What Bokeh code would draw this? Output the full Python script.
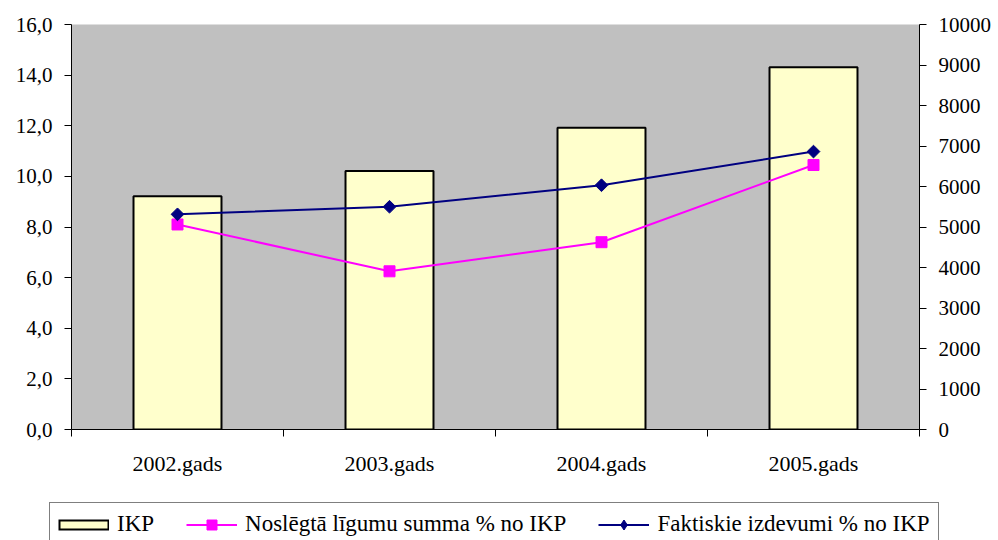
import math
from bokeh.plotting import figure
from bokeh.layouts import column
from bokeh.models import (Range1d, LinearAxis, FixedTicker, Legend, LegendItem,
                          CustomJSTickFormatter)
from bokeh.embed import file_html
from bokeh.resources import INLINE

# ---- data ----
years = ["2002.gads", "2003.gads", "2004.gads", "2005.gads"]
ikp = [5760, 6380, 7450, 8945]                 # right axis (bars)
noslegta = [8.1, 6.25, 7.4, 10.45]             # Noslēgtā līgumu summa % no IKP
faktiskie = [8.5, 8.8, 9.65, 10.98]            # Faktiskie izdevumi % no IKP
left_ticks = [0, 2, 4, 6, 8, 10, 12, 14, 16]
right_ticks = [0, 1000, 2000, 3000, 4000, 5000, 6000, 7000, 8000, 9000, 10000]
labels = ["IKP", "Noslēgtā līgumu summa % no IKP", "Faktiskie izdevumi % no IKP"]

centers = [i + 0.5 for i in range(len(years))]
bounds = [i for i in range(len(years) + 1)]

FONT = "Liberation Serif"
BAR_FILL = "#FFFFCC"
MAGENTA = "#FF00FF"
NAVY = "#000080"

p1 = figure(width=998, height=500, x_range=Range1d(0, len(years)), y_range=Range1d(0, 16),
            output_backend="svg", toolbar_location=None, frame_align=False,
            min_border_left=71, min_border_right=79, min_border_top=24, min_border_bottom=71)
p1.background_fill_color = "#C0C0C0"
p1.border_fill_color = "white"
p1.outline_line_color = None
p1.xgrid.grid_line_color = None
p1.ygrid.grid_line_color = None

# x axis
xa = p1.xaxis[0]
xa.ticker = FixedTicker(ticks=centers, minor_ticks=bounds)
xa.major_label_overrides = {c: y for c, y in zip(centers, years)}
xa.major_tick_line_color = None
xa.major_tick_out = 0
xa.major_tick_in = 0
xa.minor_tick_out = 7
xa.minor_tick_in = 0
xa.minor_tick_line_color = "black"
xa.axis_line_color = "black"
xa.major_label_standoff = 14
xa.major_label_text_font = FONT
xa.major_label_text_font_size = "22px"
xa.major_label_text_color = "black"

# left axis
ya = p1.yaxis[0]
ya.ticker = FixedTicker(ticks=left_ticks)
ya.formatter = CustomJSTickFormatter(code="return tick.toFixed(1).replace('.', ',');")
ya.major_tick_out = 7
ya.major_tick_in = 0
ya.minor_tick_line_color = None
ya.axis_line_color = "black"
ya.major_tick_line_color = "black"
ya.major_label_standoff = 12
ya.major_label_text_font = FONT
ya.major_label_text_font_size = "21px"
ya.major_label_text_color = "black"

# right axis
p1.extra_y_ranges = {"ikp": Range1d(0, 10000)}
ra = LinearAxis(y_range_name="ikp", ticker=FixedTicker(ticks=right_ticks))
ra.major_tick_out = 7
ra.major_tick_in = 0
ra.minor_tick_line_color = None
ra.axis_line_color = "black"
ra.major_tick_line_color = "black"
ra.major_label_standoff = 12
ra.major_label_text_font = FONT
ra.major_label_text_font_size = "21px"
ra.major_label_text_color = "black"
p1.add_layout(ra, "right")

# bars
p1.vbar(x=centers, top=ikp, width=0.415, y_range_name="ikp",
        fill_color=BAR_FILL, line_color="black", line_width=2)

# lines
p1.line(centers, noslegta, line_color=MAGENTA, line_width=2)
p1.scatter(centers, noslegta, marker="square", size=11,
           fill_color=MAGENTA, line_color=MAGENTA)
p1.line(centers, faktiskie, line_color=NAVY, line_width=2)
p1.scatter(centers, faktiskie, marker="square", angle=math.pi / 4, size=9,
           fill_color=NAVY, line_color=NAVY)

# ---- legend strip (bottom, partly cut off like the original) ----
p2 = figure(width=998, height=40, x_range=Range1d(0, len(years)), y_range=Range1d(0, 16),
            output_backend="svg", toolbar_location=None, frame_align=False,
            min_border_left=0, min_border_right=0, min_border_top=0, min_border_bottom=0)
p2.axis.visible = False
p2.grid.visible = False
p2.outline_line_color = None
p2.background_fill_color = "white"
p2.border_fill_color = "white"

# legend swatches (renderers hidden, only their legend glyphs are drawn)
k_out = p2.line(centers, ikp, line_color="black", line_width=11, visible=False)
k_in = p2.line(centers, ikp, line_color=BAR_FILL, line_width=7,
               line_dash="47 4", line_dash_offset=49, visible=False)
m_l = p2.line(centers, noslegta, line_color=MAGENTA, line_width=2, visible=False)
m_s = p2.scatter(centers, noslegta, marker="square", fill_color=MAGENTA,
                 line_color=MAGENTA, visible=False)
n_l = p2.line(centers, faktiskie, line_color=NAVY, line_width=2, visible=False)
n_s = p2.scatter(centers, faktiskie, marker="diamond", fill_color=NAVY,
                 line_color=NAVY, visible=False)

legend = Legend(items=[
    LegendItem(label=labels[0], renderers=[k_out, k_in]),
    LegendItem(label=labels[1], renderers=[m_l, m_s]),
    LegendItem(label=labels[2], renderers=[n_l, n_s]),
], location=(49, -6), orientation="horizontal", click_policy="none",
    glyph_width=51, glyph_height=25, label_standoff=8, spacing=32, padding=8, margin=0,
    border_line_color="black", border_line_width=1,
    background_fill_color="white", background_fill_alpha=1.0,
    inactive_fill_alpha=0.0,
    label_text_font=FONT, label_text_font_size="23px", label_text_color="black")
p2.add_layout(legend, "center")

layout = column(p1, p2, spacing=0)

with open("out.html", "w", encoding="utf-8") as f:
    f.write(file_html(layout, INLINE))
